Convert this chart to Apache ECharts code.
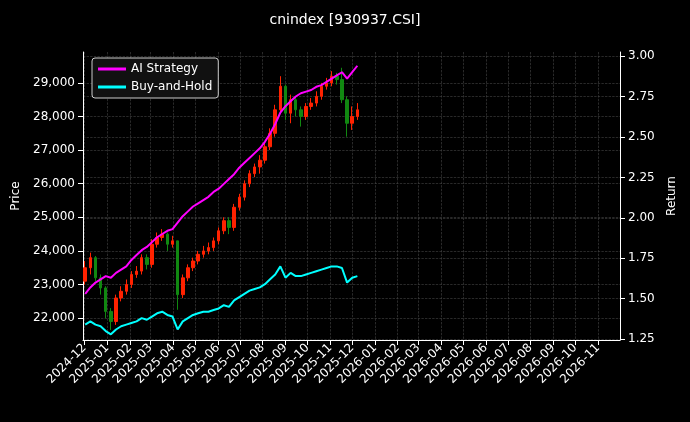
<!DOCTYPE html>
<html><head><meta charset="utf-8">
<script src="https://cdn.jsdelivr.net/npm/echarts@6/dist/echarts.min.js"></script>
<style>html,body{margin:0;background:#000}#c{width:690px;height:422px}</style>
</head><body><div id="c"></div>
<script>
const weeks=['2024-12-02','2024-12-09','2024-12-16','2024-12-23','2024-12-30','2025-01-06','2025-01-13','2025-01-20','2025-01-27','2025-02-03','2025-02-10','2025-02-17','2025-02-24','2025-03-03','2025-03-10','2025-03-17','2025-03-24','2025-03-31','2025-04-07','2025-04-14','2025-04-21','2025-04-28','2025-05-05','2025-05-12','2025-05-19','2025-05-26','2025-06-02','2025-06-09','2025-06-16','2025-06-23','2025-06-30','2025-07-07','2025-07-14','2025-07-21','2025-07-28','2025-08-04','2025-08-11','2025-08-18','2025-08-25','2025-09-01','2025-09-08','2025-09-15','2025-09-22','2025-09-29','2025-10-06','2025-10-13','2025-10-20','2025-10-27','2025-11-03','2025-11-10','2025-11-17','2025-11-24','2025-12-01','2025-12-08'];
const closes=[23500,23800,23200,22900,22200,21900,22600,22800,23000,23300,23400,23800,23600,24200,24400,24500,24200,24300,22700,23200,23500,23700,23900,24000,24100,24300,24600,24900,24700,25300,25600,26000,26300,26500,26700,27100,27500,28200,28900,28100,28500,28200,28000,28300,28400,28600,28900,29000,29200,29100,28500,27800,28000,28200];
const firstOpen=23100;
const highs=[23700,23950,23850,23300,22950,22300,22700,22950,23150,23400,23550,23900,23900,24350,24550,24650,24550,24450,24300,23300,23600,23800,24000,24150,24250,24400,24700,25000,25000,25400,25700,26100,26400,26600,26850,27200,27650,28350,29200,28950,28650,28600,28300,28400,28550,28750,29000,29150,29350,29300,29450,28600,28300,28400];
const lows=[23000,23300,23100,22700,22000,21650,21800,22500,22700,22900,23200,23300,23450,23500,24100,24300,24000,24100,22250,22600,23100,23400,23600,23800,23900,24000,24200,24500,24500,24600,25200,25500,25900,26200,26300,26600,27000,27400,28100,27900,27800,28000,27700,27900,28200,28300,28500,28800,28900,28950,28400,27400,27600,27900];
const aiStrategy=[1.53,1.57,1.60,1.62,1.64,1.63,1.66,1.68,1.70,1.74,1.77,1.80,1.82,1.85,1.88,1.90,1.92,1.93,1.97,2.01,2.04,2.07,2.09,2.11,2.13,2.16,2.18,2.21,2.24,2.27,2.31,2.34,2.37,2.40,2.43,2.47,2.52,2.58,2.65,2.69,2.72,2.75,2.77,2.78,2.79,2.81,2.82,2.84,2.86,2.88,2.90,2.86,2.90,2.94];
const buyHold=[1.34,1.36,1.34,1.33,1.30,1.28,1.31,1.33,1.34,1.35,1.36,1.38,1.37,1.39,1.41,1.42,1.40,1.39,1.31,1.36,1.38,1.40,1.41,1.42,1.42,1.43,1.44,1.46,1.45,1.49,1.51,1.53,1.55,1.56,1.57,1.59,1.62,1.65,1.70,1.63,1.66,1.64,1.64,1.65,1.66,1.67,1.68,1.69,1.70,1.70,1.69,1.60,1.63,1.64];
const monthTicks=['2024-12','2025-01','2025-02','2025-03','2025-04','2025-05','2025-06','2025-07','2025-08','2025-09','2025-10','2025-11','2025-12','2026-01','2026-02','2026-03','2026-04','2026-05','2026-06','2026-07','2026-08','2026-09','2026-10','2026-11'];
const priceTicks=[22000,23000,24000,25000,26000,27000,28000,29000];
const returnTicks=[1.25,1.5,1.75,2.0,2.25,2.5,2.75,3.0];

const ts=s=>new Date(s+'T00:00:00Z').getTime();
const monthTs=monthTicks.map(m=>ts(m+'-01'));
const candle=weeks.map((w,i)=>[ts(w),i?closes[i-1]:firstOpen,closes[i],lows[i],highs[i]]);
const fmtM=v=>{const d=new Date(v);return d.getUTCFullYear()+'-'+String(d.getUTCMonth()+1).padStart(2,'0');};
const grid={type:'dashed',color:'#444',width:0.6};
const ch=echarts.init(document.getElementById('c'));
ch.setOption({
 backgroundColor:'#000',animation:false,
 title:{text:'cnindex [930937.CSI]',left:'center',top:8,textStyle:{color:'#fff',fontSize:14,fontWeight:'normal',fontFamily:'DejaVu Sans'}},
 legend:{left:92,top:58,orient:'vertical',itemGap:6,itemWidth:28,itemHeight:3,backgroundColor:'#111',borderColor:'#ccc',borderWidth:1,borderRadius:3,padding:[5,6],textStyle:{color:'#fff',fontSize:12,fontFamily:'DejaVu Sans'},data:[{name:'AI Strategy',icon:'rect'},{name:'Buy-and-Hold',icon:'rect'}]},
 grid:{left:83,right:70,top:52,bottom:82},
 xAxis:{type:'value',min:ts('2024-11-29'),max:ts('2026-12-01'),scale:true,
  axisLine:{lineStyle:{color:'#fff'}},
  axisTick:{customValues:monthTs,lineStyle:{color:'#fff'}},
  axisLabel:{customValues:monthTs,formatter:fmtM,rotate:45,color:'#fff',fontSize:12,fontFamily:'DejaVu Sans',margin:6},
  splitLine:{show:true,lineStyle:grid}},
 yAxis:[{type:'value',min:21350,max:29920,name:'Price',nameLocation:'middle',nameGap:55,nameTextStyle:{color:'#fff',fontSize:12,fontFamily:'DejaVu Sans'},
   axisLine:{show:true,lineStyle:{color:'#fff'}},axisTick:{show:true,customValues:priceTicks},
   axisLabel:{customValues:priceTicks,color:'#fff',fontSize:12,fontFamily:'DejaVu Sans'},splitLine:{show:true,lineStyle:grid}},
  {type:'value',min:1.245,max:3.025,name:'Return',nameLocation:'middle',nameGap:45,nameTextStyle:{color:'#fff',fontSize:12,fontFamily:'DejaVu Sans'},
   axisLine:{show:true,lineStyle:{color:'#fff'}},axisTick:{show:true,customValues:returnTicks},
   axisLabel:{customValues:returnTicks,formatter:v=>v.toFixed(2),color:'#fff',fontSize:12,fontFamily:'DejaVu Sans'},splitLine:{show:true,lineStyle:grid}}],
 series:[
  {type:'candlestick',yAxisIndex:0,data:candle,barWidth:3,itemStyle:{color:'#ff2200',color0:'#118811',borderColor:'#ff2200',borderColor0:'#118811'}},
  {name:'AI Strategy',type:'line',yAxisIndex:1,data:weeks.map((w,i)=>[ts(w),aiStrategy[i]]),showSymbol:false,lineStyle:{color:'#ff00ff',width:2},itemStyle:{color:'#ff00ff'}},
  {name:'Buy-and-Hold',type:'line',yAxisIndex:1,data:weeks.map((w,i)=>[ts(w),buyHold[i]]),showSymbol:false,lineStyle:{color:'#00ffff',width:2},itemStyle:{color:'#00ffff'}}
 ]
});
</script></body></html>
